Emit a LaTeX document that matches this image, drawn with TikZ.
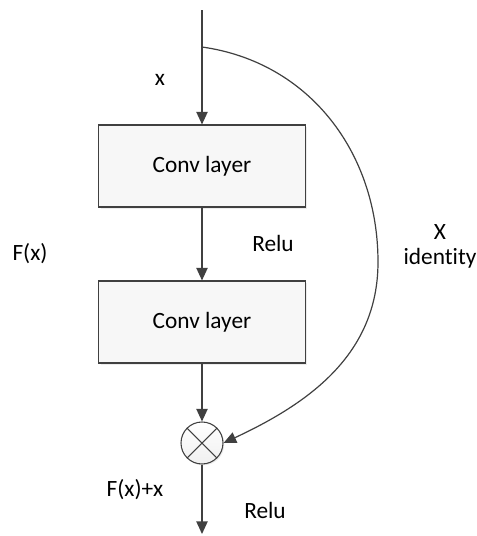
\documentclass[tikz,border=0pt]{standalone}
\usepackage{fontspec}
\setmainfont{Carlito}[Ligatures=NoCommon]
\usetikzlibrary{arrows.meta,shadows}
\definecolor{linegray}{HTML}{404040}
\tikzset{
  layer/.style={draw=linegray, fill=gray!6, line width=0.8pt,
    minimum width=155pt, minimum height=61.5pt,
    drop shadow={shadow xshift=1.5pt, shadow yshift=-1.5pt, opacity=0.15}},
  sumnode/.style={circle, draw=linegray, line width=0.8pt, minimum size=31.5pt,
    inner sep=0pt, top color=white, bottom color=gray!12,
    drop shadow={shadow xshift=1pt, shadow yshift=-1pt, opacity=0.15}},
  flow/.style={draw=linegray, line width=1.1pt, -{Triangle[length=9.5pt,width=8.5pt]}},
}
\begin{document}
\begin{tikzpicture}[x=0.75pt, y=-0.75pt, font=\fontsize{17.5pt}{21pt}\selectfont]
  \useasboundingbox (0,0) rectangle (477,536);
  % blocks
  \coordinate (in) at (202,10);
  \coordinate (branch) at (202,47);
  \coordinate (out) at (202,534);
  \node[layer] (conv1) at (202,166) {Conv layer};
  \node[layer] (conv2) at (202,322) {Conv layer};
  \node[sumnode] (sum) at (202,443) {};
  \draw[linegray, line width=0.8pt] (sum.north west) -- (sum.south east)
    (sum.north east) -- (sum.south west);
  % connectors
  \draw[flow] (in) -- (conv1.north);
  \draw[flow] (conv1.south) -- (conv2.north);
  \draw[flow] (conv2.south) -- (sum.north);
  \draw[flow] (sum.south) -- (out);
  \draw[flow, line width=0.9pt] (branch) to[out=-8, in=90] (378,262) to[out=-90, in=25] (sum.east);
  % labels
  \node (xlab) at (160,80) {x};
  \node (relu1) at (273,243) {Relu};
  \node (fx) at (30,254) {F(x)};
  \node (idX) at (440,232) {X};
  \node (idlab) at (440,258) {identity};
  \node (fxx) at (135,490) {F(x)+x};
  \node (relu2) at (265,510) {Relu};
\end{tikzpicture}
\end{document}
